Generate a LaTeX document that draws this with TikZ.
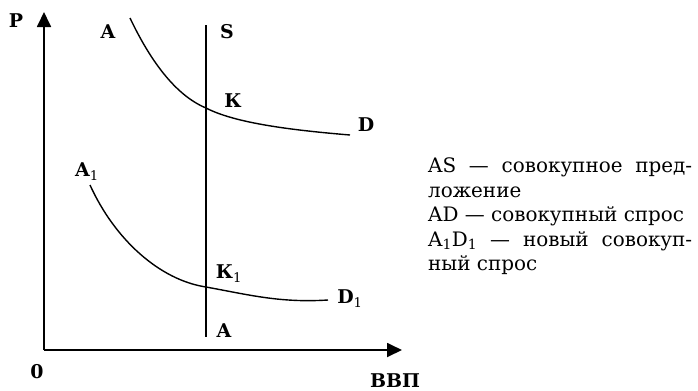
\documentclass[tikz,border=0pt]{standalone}
\usepackage{fontspec}
\setmainfont{DejaVu Serif}
\usetikzlibrary{arrows.meta}
\tikzset{
  axis/.style={line width=1.8bp, -{Triangle[length=15bp,width=14bp]}},
  curve/.style={line width=1.4bp},
  lbl/.style={font=\fontsize{19}{19}\selectfont\bfseries, inner sep=0pt}
}
\begin{document}
\begin{tikzpicture}[x=1bp,y=-1bp]
  \useasboundingbox (0,0) rectangle (698,390);
  % axes
  \coordinate (O) at (44,350);
  \coordinate (Ptop) at (44,12);
  \coordinate (Xend) at (402,350);
  \draw[axis] (O) -- (Ptop);
  \draw[axis] (O) -- (Xend);
  \node[lbl] (P) at (16,21) {P};
  \node[lbl] (zero) at (37,372) {0};
  \node[lbl, anchor=base] (vvp) at (395,387) {ВВП};
  % supply AS
  \coordinate (Stop) at (206,25);
  \coordinate (Sbot) at (206,337);
  \draw[curve] (Stop) -- (Sbot);
  \node[lbl] (S) at (227,32) {S};
  \node[lbl] (Abot) at (224,331) {A};
  % demand AD
  \coordinate (ADa) at (130,18);
  \coordinate (K) at (206,108);
  \coordinate (ADd) at (350,135);
  \draw[curve] (ADa) .. controls (150,60) and (175,95) .. (K)
    .. controls (235,123) and (290,130) .. (ADd);
  \node[lbl] (Atop) at (108,32) {A};
  \node[lbl] (Klbl) at (233,101) {К};
  \node[lbl] (D) at (366,125) {D};
  % new demand A1D1
  \coordinate (A1a) at (90,185);
  \coordinate (K1) at (206,287);
  \coordinate (A1d) at (328,300);
  \draw[curve] (A1a) .. controls (115,240) and (160,280) .. (K1)
    .. controls (250,295) and (280,303) .. (A1d);
  \node[lbl] (A1) at (87,172) {A\textsubscript{\mdseries 1}};
  \node[lbl] (K1lbl) at (229,274) {К\textsubscript{\mdseries 1}};
  \node[lbl] (D1) at (350,299) {D\textsubscript{\mdseries 1}};
  % legend
  \node[anchor=north west, inner sep=0pt, text width=264bp, align=justify,
        font=\fontsize{20}{24.5}\selectfont] (legend) at (428,158)
    {AS — совокупное пред-\linebreak ложение\\
     AD — совокупный спрос\\
     A\textsubscript{1}D\textsubscript{1} — новый совокуп-\linebreak ный спрос};
\end{tikzpicture}
\end{document}
